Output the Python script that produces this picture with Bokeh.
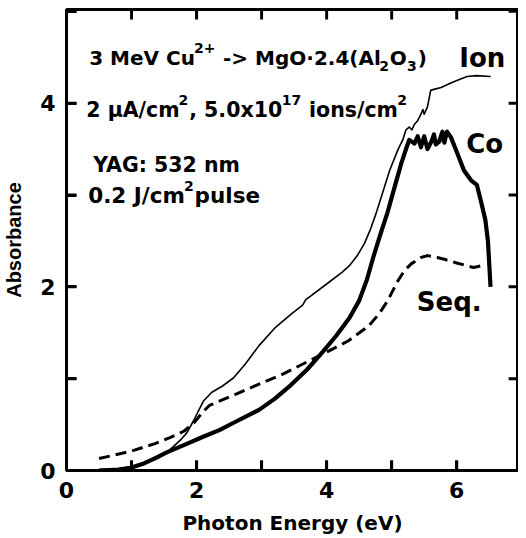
from bokeh.plotting import figure
from bokeh.models import Label, LinearAxis, FixedTicker, Range1d
from bokeh.embed import file_html
from bokeh.resources import INLINE

# ---- data ----
ion_e = [0.50, 0.80, 1.00, 1.20, 1.40, 1.58, 1.75, 1.85, 1.96, 2.05, 2.11, 2.23, 2.40, 2.57,
         2.75, 2.96, 3.20, 3.45, 3.63, 3.68, 3.98, 4.24, 4.35, 4.48, 4.58, 4.67, 4.76, 4.85,
         4.97, 5.10, 5.17, 5.22, 5.27, 5.31, 5.35, 5.39, 5.43, 5.48, 5.50, 5.55, 5.60, 5.65,
         5.76, 5.91, 6.05, 6.16, 6.30, 6.52]
ion_a = [0.01, 0.02, 0.04, 0.08, 0.13, 0.22, 0.33, 0.41, 0.55, 0.68, 0.76, 0.85, 0.92, 1.01,
         1.16, 1.36, 1.55, 1.70, 1.80, 1.86, 2.02, 2.16, 2.23, 2.35, 2.47, 2.62, 2.80, 3.00,
         3.27, 3.50, 3.60, 3.71, 3.74, 3.71, 3.77, 3.80, 3.85, 3.93, 3.88, 3.96, 4.14, 4.15,
         4.17, 4.22, 4.26, 4.29, 4.30, 4.29]

co_e = [0.50, 0.80, 0.99, 1.20, 1.35, 1.55, 1.85, 2.11, 2.35, 2.57, 2.96, 3.20, 3.45, 3.70,
        3.95, 4.15, 4.35, 4.50, 4.62, 4.72, 4.83, 4.94, 5.05, 5.15, 5.23, 5.27, 5.35, 5.40,
        5.45, 5.50, 5.55, 5.61, 5.65, 5.68, 5.73, 5.78, 5.81, 5.85, 5.91, 6.00, 6.11, 6.22,
        6.31, 6.37, 6.44, 6.48, 6.52]
co_a = [0.00, 0.01, 0.03, 0.08, 0.13, 0.20, 0.29, 0.37, 0.44, 0.52, 0.66, 0.78, 0.93, 1.10,
        1.30, 1.47, 1.66, 1.85, 2.08, 2.33, 2.58, 2.82, 3.10, 3.35, 3.52, 3.60, 3.56, 3.64,
        3.52, 3.64, 3.50, 3.58, 3.66, 3.55, 3.58, 3.69, 3.57, 3.69, 3.63, 3.47, 3.27, 3.16,
        3.11, 2.94, 2.73, 2.50, 2.00]

seq_e = [0.50, 0.99, 1.35, 1.60, 1.81, 1.96, 2.10, 2.20, 2.57, 2.96, 3.30, 3.72, 4.03, 4.33,
         4.64, 4.80, 4.94, 5.09, 5.20, 5.30, 5.45, 5.55, 5.70, 5.81, 6.00, 6.26, 6.44]
seq_a = [0.13, 0.21, 0.29, 0.36, 0.43, 0.52, 0.64, 0.71, 0.82, 0.94, 1.04, 1.19, 1.30, 1.41,
         1.57, 1.70, 1.85, 2.06, 2.18, 2.25, 2.32, 2.34, 2.32, 2.30, 2.26, 2.21, 2.24]

x_ticks = [0, 1, 2, 3, 4, 5, 6, 7]
x_tick_labels = ["0", "", "2", "", "4", "", "6", ""]
y_ticks = [0, 1, 2, 3, 4, 5]
y_tick_labels = ["0", "", "2", "", "4", ""]

series_names = ["Ion", "Co", "Seq."]

# ---- figure ----
XMAX, YMAX = 6.95, 5.02
p = figure(width=518, height=538, x_range=Range1d(0, XMAX), y_range=Range1d(0, YMAX),
           output_backend="svg", toolbar_location=None,
           min_border_left=60, min_border_right=0, min_border_top=9, min_border_bottom=68)
p.xaxis.visible = False
p.yaxis.visible = False
p.grid.visible = False
p.outline_line_color = "black"
p.outline_line_width = 3
p.background_fill_color = "white"
p.border_fill_color = "white"

FONT = "DejaVu Sans"


def make_axis(ticks, labels, label_text):
    ax = LinearAxis(ticker=FixedTicker(ticks=ticks))
    ax.major_label_overrides = {t: l for t, l in zip(ticks, labels)}
    ax.axis_line_width = 3
    ax.axis_line_color = "black"
    ax.major_tick_line_color = "black"
    ax.major_tick_line_width = 3
    ax.major_tick_in = 10
    ax.major_tick_out = 0
    ax.minor_tick_line_color = None
    ax.major_label_text_font = FONT
    ax.major_label_text_font_style = "bold"
    ax.major_label_text_font_size = "22px"
    ax.major_label_text_color = "black"
    ax.major_label_standoff = 11
    ax.axis_label = label_text
    ax.axis_label_text_font_style = "bold"
    ax.axis_label_text_font_size = "20px"
    ax.axis_label_text_color = "black"
    return ax


xb = make_axis(x_ticks, x_tick_labels, "Photon Energy (eV)")
xb.axis_label_text_font = FONT
xb.axis_label_standoff = 10
yl = make_axis(y_ticks, y_tick_labels, "Absorbance")
yl.axis_label_text_font = "Liberation Sans"
yl.axis_label_standoff = 12
p.add_layout(xb, "below")
p.add_layout(yl, "left")

# ---- curves ----
p.line(ion_e, ion_a, line_color="black", line_width=1.6, line_join="round")
p.line(co_e, co_a, line_color="black", line_width=4.2, line_join="round")
p.line(seq_e, seq_a, line_color="black", line_width=3, line_dash="11 6", line_join="round")

# ---- inward ticks on all four sides, drawn from the tick lists as filled bars ----
XS = 458 / XMAX          # px per data unit
YS = 461 / YMAX
TLX, TLY = 10 / XS, 10 / YS
HWX, HWY = 1.5 / XS, 1.5 / YS
xt_in = [float(t) for t in x_ticks if 0 < t < XMAX]
yt_in = [float(t) for t in y_ticks if 0 < t < YMAX]
n, m = len(xt_in), len(yt_in)
p.quad(left=[t - HWX for t in xt_in] * 2, right=[t + HWX for t in xt_in] * 2,
       bottom=[0.0] * n + [YMAX - TLY] * n, top=[TLY] * n + [YMAX] * n,
       fill_color="black", line_color=None)
p.quad(left=[0.0] * m + [XMAX - TLX] * m, right=[TLX] * m + [XMAX] * m,
       bottom=[t - HWY for t in yt_in] * 2, top=[t + HWY for t in yt_in] * 2,
       fill_color="black", line_color=None)

# ---- annotations (placed by page pixel; pieces chained by estimated width) ----
W = {' ': .348, '+': .838, '-': .415, '>': .838, '.': .380, ',': .380, ':': .400, '(': .457,
     ')': .457, '/': .365, '\u00b7': .380, '\u03bc': .721, 'A': .774, 'C': .734, 'G': .821,
     'J': .372, 'M': .995, 'O': .850, 'V': .774, 'Y': .724, 'a': .675, 'c': .593, 'e': .678,
     'g': .716, 'i': .343, 'l': .343, 'm': 1.042, 'n': .712, 'o': .687, 'p': .716, 's': .595,
     'u': .712, 'x': .663}


def width(s, size):
    return sum(W.get(ch, .696) for ch in s) * size


def dx(px):
    return (px - 68) / XS


def dy(py):
    return (470 - py) / YS


def txt(s, px, py, size):
    p.add_layout(Label(x=dx(px), y=dy(py), text=s, text_font=FONT, text_font_style="bold",
                       text_font_size=f"{size}px", text_color="black",
                       text_align="left", text_baseline="alphabetic"))


S = 14
SUP, SUB = -10, 8


def line(pieces, px, base, size):
    x = px
    for s, kind in pieces:
        lead = len(s) - len(s.lstrip(" "))
        if lead:
            x += lead * W[' '] * (size if kind == "n" else S)
            s = s.lstrip(" ")
        if kind == "n":
            txt(s, x, base, size)
            x += width(s, size)
        else:
            txt(s, x + 0.5, base + (SUP if kind == "sup" else SUB), S)
            x += width(s, S) + 1.5


line([("3 MeV Cu", "n"), ("2+", "sup"), (" -> MgO\u00b72.4(Al", "n"), ("2", "sub"),
      ("O", "n"), ("3", "sub"), (")", "n")], 91, 57, 20)
line([("2 \u03bcA/cm", "n"), ("2", "sup"), (", 5.0x10", "n"), ("17", "sup"),
      (" ions/cm", "n"), ("2", "sup")], 88, 109, 20.5)
line([("YAG: 532 nm", "n")], 95, 164, 20.5)
line([("0.2 J/cm", "n"), ("2", "sup"), ("pulse", "n")], 90, 195, 21.5)

# series labels
txt(series_names[0], 466, 57, 26)
txt(series_names[1], 473, 143, 26)
txt(series_names[2], 423, 301, 26)

open("out.html", "w").write(file_html(p, INLINE))
